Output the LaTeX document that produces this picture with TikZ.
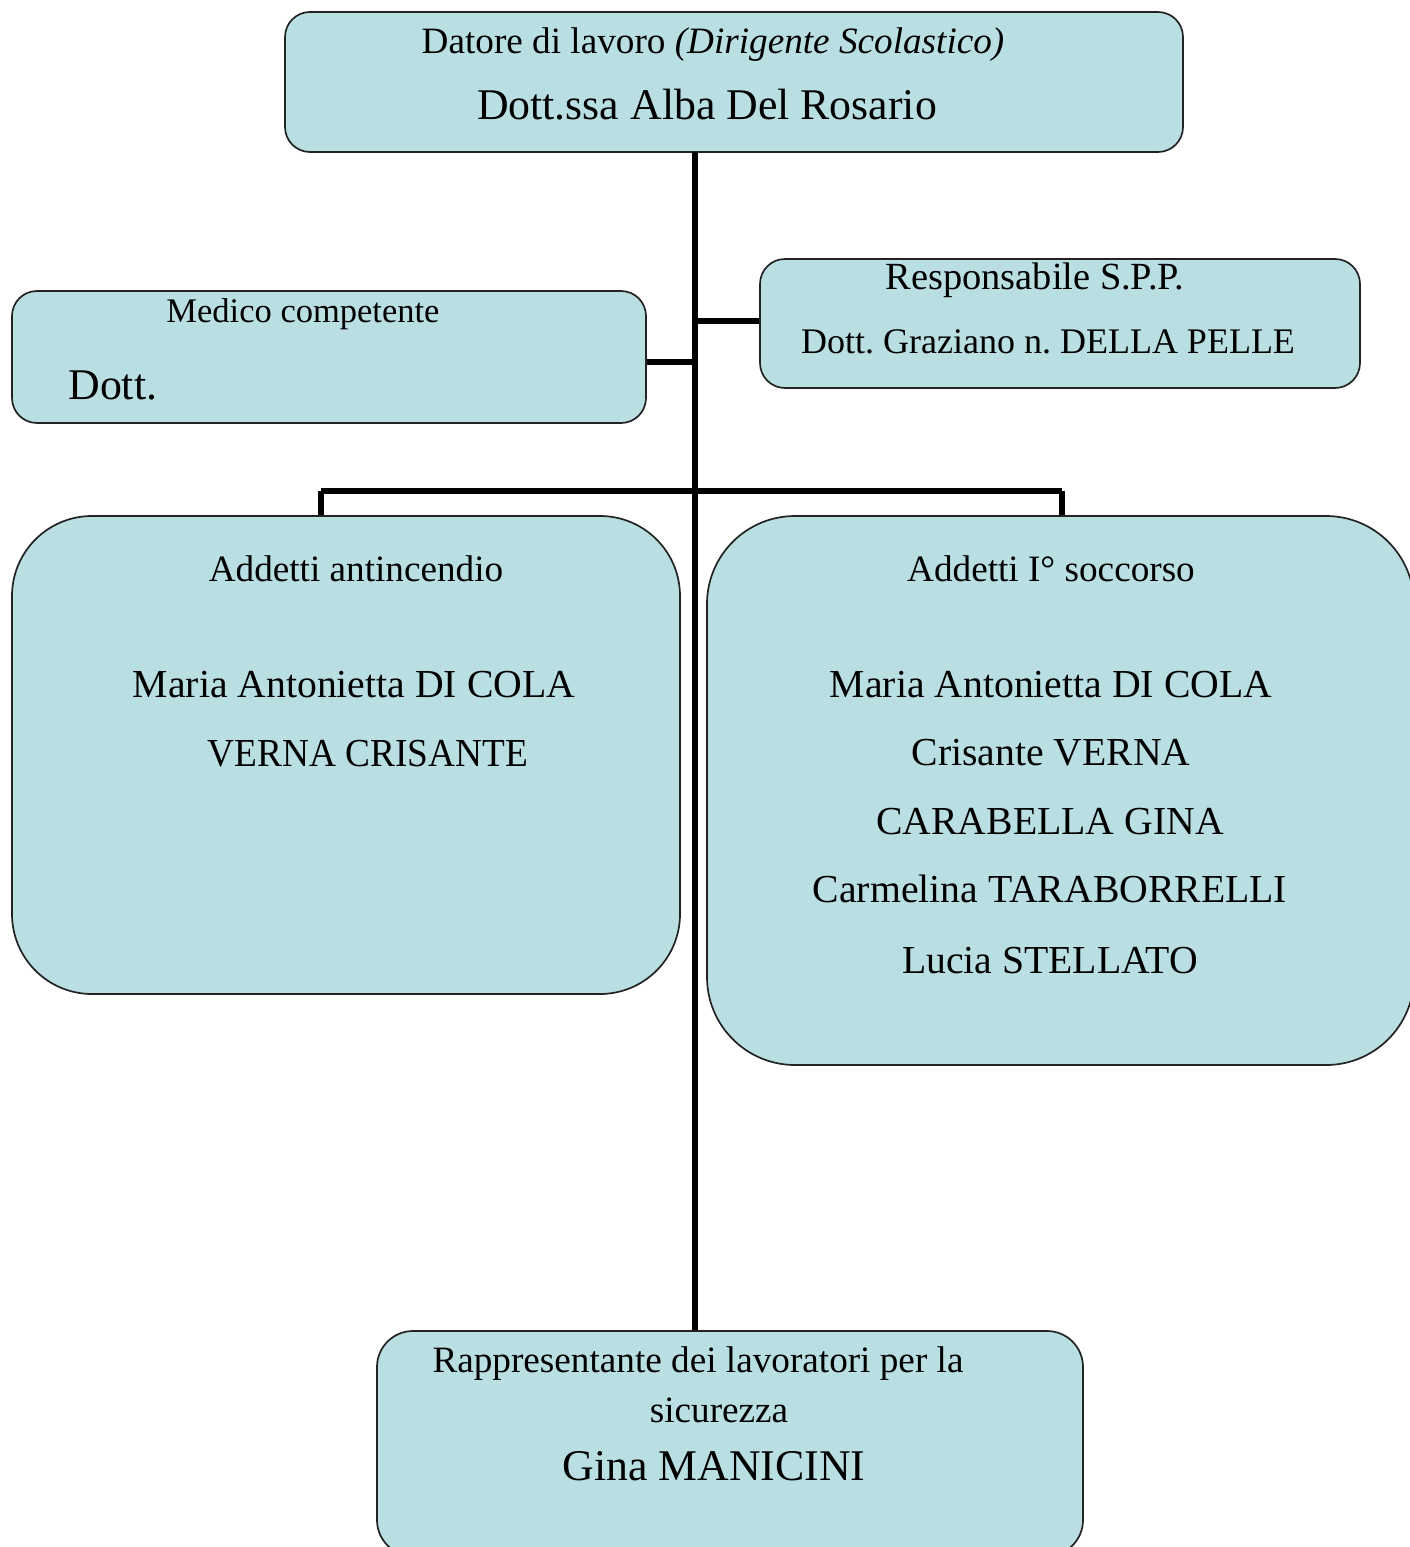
\documentclass[tikz,border=0pt]{standalone}
\usepackage{fontspec}
\setmainfont{Liberation Serif}
\usetikzlibrary{fit}
\definecolor{boxfill}{RGB}{185,223,227}
\definecolor{boxline}{RGB}{35,35,35}
\newcommand\fsS{\fontsize{18.6}{22}\selectfont}
\newcommand\fsSS{\fontsize{17.25}{20}\selectfont}
\newcommand\fsM{\fontsize{19.85}{23}\selectfont}
\newcommand\fsL{\fontsize{21.9}{25}\selectfont}
\tikzset{
  box/.style={draw=boxline, line width=0.85pt, fill=boxfill, inner sep=0pt, rectangle},
  txt/.style={anchor=base, inner sep=0pt},
  conn/.style={line width=3pt, black},
}
\frenchspacing
\begin{document}
\begin{tikzpicture}[x=0.5pt,y=-0.5pt]
\useasboundingbox (0,0) rectangle (1409,1547);
% boxes
\node[box, rounded corners=12.5pt, fit={(285,12) (1183,152)}] (top) {};
\node[box, rounded corners=12.5pt, fit={(12,291) (646,423)}] (med) {};
\node[box, rounded corners=12.5pt, fit={(760,259) (1360,388)}] (rsp) {};
\node[box, rounded corners=40pt, fit={(12,516) (680,994)}] (ant) {};
\node[box, rounded corners=44pt, fit={(707,516) (1414,1065)}] (soc) {};
\node[box, rounded corners=18pt, fit={(377,1331) (1083,1556)}] (rls) {};
% texts
\node[txt, font=\fsS] (t1) at (713,53) {Datore di lavoro \textit{(Dirigente Scolastico)}};
\node[txt, font=\fsL] (t2) at (707,119) {Dott.ssa Alba Del Rosario};
\node[txt, font=\fsSS] (m1) at (303,322) {Medico competente};
\node[txt, font=\fsL, anchor=base west] (m2) at (68,399) {Dott.};
\node[txt, font=\fontsize{19.2}{22}\selectfont] (r1) at (1035,289) {Responsabile S.P.P.};
\node[txt, font=\fontsize{18}{21}\selectfont] (r2) at (1048,353) {Dott. Graziano n. DELLA PELLE};
\node[txt, font=\fsS] (a1) at (356,581) {Addetti antincendio};
\node[txt, font=\fsM] (a2) at (354,697) {Maria Antonietta DI COLA};
\node[txt, font=\fsM, xscale=0.94] (a3) at (368,766) {VERNA CRISANTE};
\node[txt, font=\fsS] (s1) at (1051,581) {Addetti I° soccorso};
\node[txt, font=\fsM] (s2) at (1051,697) {Maria Antonietta DI COLA};
\node[txt, font=\fsM] (s3) at (1051,765) {Crisante VERNA};
\node[txt, font=\fsM] (s4) at (1050,834) {CARABELLA GINA};
\node[txt, font=\fsM] (s5) at (1050,902) {Carmelina TARABORRELLI};
\node[txt, font=\fsM] (s6) at (1050,973) {Lucia STELLATO};
\node[txt, font=\fsS] (b1) at (698,1372) {Rappresentante dei lavoratori per la};
\node[txt, font=\fsS] (b2) at (719,1422) {sicurezza};
\node[txt, font=\fsL] (b3) at (714,1480) {Gina MANICINI};
% connectors
\coordinate (tr) at (695,152);
\coordinate (jr) at (695,321);
\coordinate (jm) at (695,362);
\coordinate (bl) at (321,491);
\coordinate (br) at (1062,491);
\draw[conn] (tr) -- (tr |- rls.north);
\draw[conn] (jr) -- (jr -| rsp.west);
\draw[conn] (jm) -- (jm -| med.east);
\draw[conn] (bl) -- (br);
\draw[conn] (bl) -- (bl |- ant.north);
\draw[conn] (br) -- (br |- soc.north);
\end{tikzpicture}
\end{document}
